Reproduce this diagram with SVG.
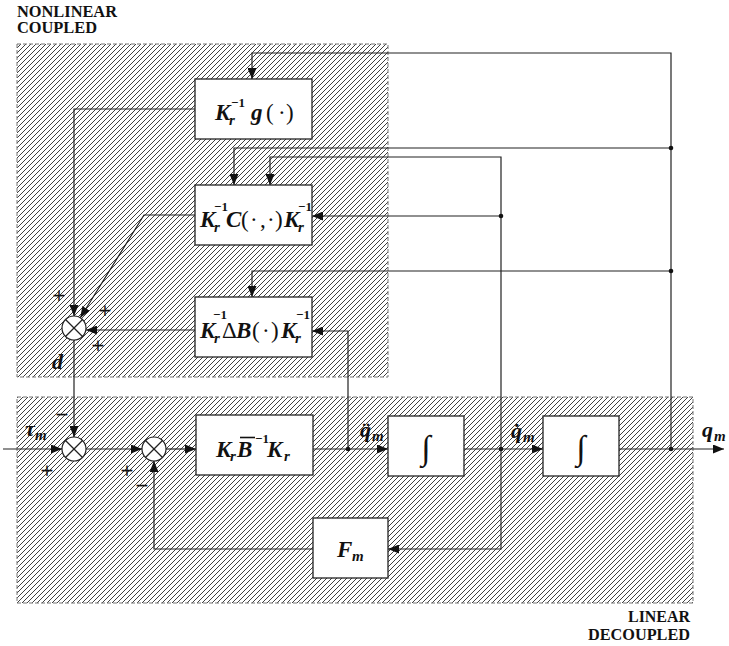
<svg xmlns="http://www.w3.org/2000/svg" width="729" height="646" viewBox="0 0 729 646">
<defs>
<pattern id="hatch" patternUnits="userSpaceOnUse" width="5" height="5">
<path d="M-1,1 L1,-1 M0,5 L5,0 M4,6 L6,4" stroke="#2a2a2a" stroke-width="0.9"/>
</pattern>
<marker id="arr" markerUnits="userSpaceOnUse" viewBox="0 0 11 9" refX="11" refY="4.5" markerWidth="11" markerHeight="9" orient="auto">
<path d="M0,0 L11,4.5 L0,9 z" fill="#111"/>
</marker>
<style>
.region{fill:url(#hatch);stroke:#777;stroke-width:1;stroke-dasharray:4 2}
.blk{fill:#fff;stroke:#222;stroke-width:1.3}
.sum circle{fill:#fff;stroke:#222;stroke-width:1.2}
.sum line{stroke:#222;stroke-width:1.2}
.con path{fill:none;stroke:#222;stroke-width:1.2;marker-end:url(#arr)}
.dot{fill:#111}
.title{font-family:"Liberation Serif",serif;font-weight:bold;font-size:16px;fill:#111}
.m{font-family:"Liberation Serif",serif;font-style:italic;font-weight:bold;font-size:23px;fill:#111}
.u{font-family:"Liberation Serif",serif;font-style:normal;font-weight:normal;font-size:23px;fill:#111}
.int{font-family:"Liberation Serif",serif;font-style:italic;font-weight:normal;font-size:34px;fill:#111;text-anchor:middle}
.lbl{font-family:"Liberation Serif",serif;font-style:italic;font-weight:bold;font-size:22px;fill:#111}
.sb{font-family:"Liberation Serif",serif;font-style:italic;font-weight:bold;font-size:15px;fill:#111}
.sp{font-family:"Liberation Serif",serif;font-style:normal;font-weight:bold;font-size:13px;fill:#111}
.sign{font-family:"Liberation Serif",serif;font-size:22px;fill:#111;stroke:#111;stroke-width:0.4;text-anchor:middle}
</style>
</defs>
<rect width="729" height="646" fill="#fff"/>

<g id="region-nonlinear">
<rect class="region" x="17" y="44" width="371" height="333"/>
<text class="title" x="17" y="17" textLength="100" lengthAdjust="spacingAndGlyphs">NONLINEAR</text>
<text class="title" x="17" y="33" textLength="80" lengthAdjust="spacingAndGlyphs">COUPLED</text>
</g>
<g id="region-linear">
<rect class="region" x="17" y="397" width="676" height="206"/>
<text class="title" x="628" y="622" textLength="62" lengthAdjust="spacingAndGlyphs">LINEAR</text>
<text class="title" x="588" y="640" textLength="102" lengthAdjust="spacingAndGlyphs">DECOUPLED</text>
</g>

<g id="connectors" class="con">
<path d="M3,449 H62"/>
<path d="M86,449 H142"/>
<path d="M166,449 H196"/>
<path d="M313,449 H388"/>
<path d="M464,449 H543"/>
<path d="M619,449 H724"/>
<path d="M501,449 V549 H388"/>
<path d="M313,549 H154 V461"/>
<path d="M74,340 V437"/>
<path d="M671,449 V53 H252 V79"/>
<path d="M671,148 H234 V185"/>
<path d="M501,449 V157 H270 V185"/>
<path d="M501,216 H312"/>
<path d="M671,271 H252 V297"/>
<path d="M348,449 V331 H312"/>
<path d="M195,109 H74 V316"/>
<path d="M195,215 H144 L80.3,317.8"/>
<path d="M195,330 H86"/>
<circle class="dot" cx="348" cy="449" r="2.3"/>
<circle class="dot" cx="501" cy="449" r="2.3"/>
<circle class="dot" cx="671" cy="449" r="2.3"/>
<circle class="dot" cx="671" cy="148" r="2.3"/>
<circle class="dot" cx="501" cy="216" r="2.3"/>
<circle class="dot" cx="671" cy="271" r="2.3"/>
</g>

<g id="block-g">
<rect class="blk" x="195" y="79" width="117" height="60"/>
<text class="m" x="215" y="120">K</text>
<text class="sb" x="229" y="125">r</text>
<text class="sp" x="231" y="107">−1</text>
<text class="m" x="251" y="120">g</text>
<text class="u" x="266" y="120">(</text>
<text class="u" x="278" y="120">·</text>
<text class="u" x="286" y="120">)</text>
</g>

<g id="block-C">
<rect class="blk" x="195" y="185" width="117" height="60"/>
<text class="m" x="200" y="227">K</text>
<text class="sb" x="214" y="232">r</text>
<text class="sp" x="214" y="211">−1</text>
<text class="m" x="226" y="227">C</text>
<text class="u" x="241" y="227">(</text>
<text class="u" x="250" y="227">·</text>
<text class="u" x="260" y="227">,</text>
<text class="u" x="267" y="227">·</text>
<text class="u" x="275" y="227">)</text>
<text class="m" x="284" y="227">K</text>
<text class="sb" x="298" y="232">r</text>
<text class="sp" x="298" y="211">−1</text>
</g>

<g id="block-deltaB">
<rect class="blk" x="195" y="297" width="117" height="60"/>
<text class="m" x="200" y="338">K</text>
<text class="sb" x="214" y="343">r</text>
<text class="sp" x="213" y="319">−1</text>
<text class="u" x="222" y="338">Δ</text>
<text class="m" x="236" y="338">B</text>
<text class="u" x="252" y="338">(</text>
<text class="u" x="262" y="338">·</text>
<text class="u" x="271" y="338">)</text>
<text class="m" x="281" y="338">K</text>
<text class="sb" x="295" y="343">r</text>
<text class="sp" x="296" y="319">−1</text>
</g>

<g id="block-KBK">
<rect class="blk" x="196" y="415" width="117" height="60"/>
<text class="m" x="216" y="457">K</text>
<text class="sb" x="230" y="461">r</text>
<text class="m" x="237" y="457">B</text>
<line x1="240" y1="437.5" x2="255" y2="437.5" stroke="#111" stroke-width="1.6"/>
<text class="sp" x="255" y="443">−1</text>
<text class="m" x="267" y="457">K</text>
<text class="sb" x="284" y="461">r</text>
</g>

<g id="block-int1">
<rect class="blk" x="388" y="416" width="76" height="60"/>
<text class="int" x="426" y="459">∫</text>
</g>

<g id="block-int2">
<rect class="blk" x="543" y="416" width="76" height="60"/>
<text class="int" x="581" y="459">∫</text>
</g>

<g id="block-Fm">
<rect class="blk" x="313" y="518" width="75" height="60"/>
<text class="m" x="337" y="557">F</text>
<text class="sb" x="352" y="561">m</text>
</g>

<g id="sum-d" class="sum">
<circle cx="74" cy="328" r="12"/>
<line x1="65.5" y1="319.5" x2="82.5" y2="336.5"/>
<line x1="65.5" y1="336.5" x2="82.5" y2="319.5"/>
</g>
<g id="sum-tau" class="sum">
<circle cx="74" cy="449" r="12"/>
<line x1="65.5" y1="440.5" x2="82.5" y2="457.5"/>
<line x1="65.5" y1="457.5" x2="82.5" y2="440.5"/>
</g>
<g id="sum-fb" class="sum">
<circle cx="154" cy="449" r="12"/>
<line x1="145.5" y1="440.5" x2="162.5" y2="457.5"/>
<line x1="145.5" y1="457.5" x2="162.5" y2="440.5"/>
</g>

<g id="labels">
<text class="sign" x="59" y="303">+</text>
<text class="sign" x="105" y="318">+</text>
<text class="sign" x="98" y="353">+</text>
<text class="lbl" x="52" y="369">d</text>
<text class="sign" x="62" y="422">−</text>
<text class="sign" x="47" y="478">+</text>
<text class="sign" x="127" y="478">+</text>
<text class="sign" x="142" y="493">−</text>
<text class="lbl" x="25" y="436">τ</text>
<text class="sb" x="35" y="440">m</text>
<text class="lbl" x="360" y="437">q̈</text>
<text class="sb" x="372" y="441">m</text>
<text class="lbl" x="511" y="438">q̇</text>
<text class="sb" x="523" y="442">m</text>
<text class="lbl" x="702" y="437">q</text>
<text class="sb" x="714" y="441">m</text>
</g>
</svg>
